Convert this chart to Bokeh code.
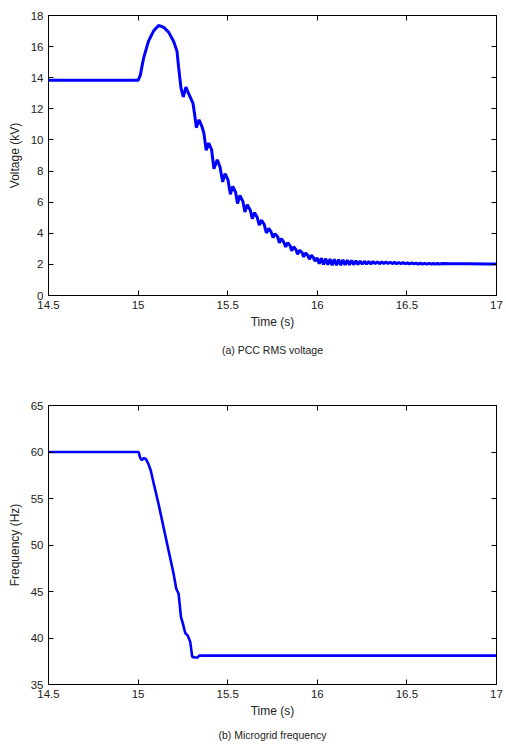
from bokeh.plotting import figure
from bokeh.layouts import column
from bokeh.models import LinearAxis, Title, FixedTicker, Range1d
from bokeh.embed import file_html
from bokeh.resources import INLINE

# ---------------- data ----------------
# (a) PCC RMS voltage (kV)
volt_t = [14.5, 15.0, 15.012, 15.031, 15.058, 15.086, 15.114, 15.142, 15.170, 15.198,
          15.217, 15.226, 15.239, 15.252, 15.267, 15.282, 15.306, 15.315, 15.325, 15.340,
          15.356, 15.367, 15.380, 15.394, 15.410, 15.423, 15.442, 15.457, 15.472, 15.485,
          15.501, 15.515, 15.528, 15.544, 15.555, 15.568, 15.585, 15.596, 15.609, 15.626,
          15.637, 15.650, 15.665, 15.676, 15.689, 15.704, 15.716, 15.729, 15.742, 15.753,
          15.764, 15.779, 15.788, 15.799, 15.812, 15.824, 15.835, 15.848, 15.857, 15.868,
          15.881, 15.890, 15.902, 15.915, 15.924, 15.935, 15.946, 15.956, 15.967, 15.978,
          15.987, 15.999, 16.011, 16.023, 16.035, 16.047, 16.059, 16.071, 16.083, 16.095,
          16.107, 16.119, 16.131, 16.143, 16.155, 16.167, 16.179, 16.191, 16.203, 16.215,
          16.227, 16.239, 16.251, 16.263, 16.275, 16.287, 16.299, 16.311, 16.323, 16.335,
          16.347, 16.359, 16.371, 16.383, 16.395, 16.407, 16.419, 16.431, 16.443, 16.455,
          16.467, 16.479, 16.491, 16.503, 16.515, 16.527, 16.539, 16.551, 16.563, 16.575,
          16.587, 16.599, 16.611, 16.623, 16.635, 16.647, 16.659, 16.671, 16.683, 16.695,
          16.75, 16.85, 16.95, 17.0]
volt_v = [13.83, 13.83, 14.15, 15.28, 16.35, 17.00, 17.36, 17.25, 16.93, 16.35,
          15.71, 14.68, 13.36, 12.76, 13.40, 12.97, 12.37, 11.69, 10.79, 11.30,
          10.87, 10.45, 9.33, 9.80, 9.38, 8.15, 8.73, 8.26, 7.30, 7.83,
          7.45, 6.51, 7.02, 6.64, 5.91, 6.44, 6.04, 5.37, 5.84, 5.48,
          4.94, 5.33, 5.01, 4.52, 4.84, 4.56, 4.02, 4.32, 4.09, 3.72,
          3.98, 3.77, 3.38, 3.66, 3.45, 3.13, 3.40, 3.21, 2.87, 3.13,
          2.95, 2.65, 2.91, 2.76, 2.48, 2.74, 2.59, 2.33, 2.59, 2.44,
          2.20, 2.42, 2.05, 2.40, 2.00, 2.37, 1.97, 2.35, 1.95, 2.33,
          1.95, 2.31, 1.95, 2.30, 1.96, 2.28, 1.97, 2.26, 1.98, 2.24,
          2.00, 2.22, 2.01, 2.20, 2.02, 2.19, 2.03, 2.18, 2.04, 2.17,
          2.04, 2.16, 2.05, 2.15, 2.05, 2.14, 2.05, 2.13, 2.05, 2.12,
          2.05, 2.11, 2.04, 2.10, 2.03, 2.09, 2.03, 2.08, 2.02, 2.08,
          2.02, 2.07, 2.02, 2.07, 2.02, 2.06, 2.02, 2.06, 2.02, 2.05,
          2.04, 2.04, 2.03, 2.03]

# (b) Microgrid frequency (Hz)
freq_t = [14.5, 15.003, 15.012, 15.021, 15.031, 15.044, 15.058, 15.071, 15.090, 15.114,
          15.142, 15.170, 15.198, 15.213, 15.226, 15.239, 15.250, 15.263, 15.276, 15.291,
          15.302, 15.319, 15.332, 15.341, 17.0]
freq_v = [60.0, 60.0, 59.35, 59.13, 59.35, 59.24, 58.70, 57.99, 56.38, 54.41,
          51.91, 49.41, 46.90, 45.30, 44.76, 42.26, 41.54, 40.54, 40.29, 39.58,
          37.97, 37.90, 37.90, 38.11, 38.11]

x_ticks = [14.5, 15, 15.5, 16, 16.5, 17]
x_tick_labels = ["14.5", "15", "15.5", "16", "16.5", "17"]
v_ticks = [0, 2, 4, 6, 8, 10, 12, 14, 16, 18]
f_ticks = [35, 40, 45, 50, 55, 60, 65]

FONT = "Liberation Sans"


def style_axis(ax, show_labels=True):
    ax.axis_line_color = "black"
    ax.axis_line_width = 1
    ax.major_tick_line_color = "black"
    ax.major_tick_in = 5
    ax.major_tick_out = 0
    ax.minor_tick_in = 0
    ax.minor_tick_out = 0
    ax.major_label_text_font = FONT
    ax.axis_label_text_font = FONT
    ax.axis_label_text_font_style = "normal"
    ax.axis_label_text_font_size = "12px"
    ax.axis_label_text_color = "#222222"
    if show_labels:
        ax.major_label_text_color = "#222222"
        ax.major_label_text_font_size = "11.5px"
        ax.major_label_standoff = 5
    else:
        ax.major_label_text_color = None
        ax.major_label_text_font_size = "1px"
        ax.major_label_standoff = 0


def make_fig(t, v, yr, yticks, ylabel, caption, height, top_border, bottom_border, lw,
             cap_standoff):
    p = figure(width=506, height=height, x_range=Range1d(14.5, 17), y_range=Range1d(*yr),
               output_backend="svg", toolbar_location=None,
               min_border_left=48, min_border_right=10,
               min_border_top=top_border, min_border_bottom=bottom_border)
    p.grid.visible = False
    p.outline_line_color = "black"
    p.background_fill_color = "white"
    p.border_fill_color = "white"
    p.line(t, v, line_color="#0000FF", line_width=lw)

    overrides = {k: s for k, s in zip(x_ticks, x_tick_labels)}

    p.xaxis.ticker = FixedTicker(ticks=x_ticks)
    p.xaxis.major_label_overrides = overrides
    p.xaxis.axis_label = "Time (s)"
    p.xaxis.axis_label_standoff = 3
    p.yaxis.ticker = FixedTicker(ticks=yticks)
    p.yaxis.axis_label = ylabel
    p.yaxis.axis_label_standoff = 6
    style_axis(p.xaxis[0])
    style_axis(p.yaxis[0])

    top = LinearAxis(ticker=FixedTicker(ticks=x_ticks))
    right = LinearAxis(ticker=FixedTicker(ticks=yticks))
    style_axis(top, False)
    style_axis(right, False)
    p.add_layout(top, "above")
    p.add_layout(right, "right")

    cap = Title(text=caption, align="center", text_font=FONT, text_font_style="normal",
                text_font_size="10.5px", text_color="#222222", standoff=cap_standoff)
    p.add_layout(cap, "below")
    return p


p1 = make_fig(volt_t, volt_v, (0, 18), v_ticks, "Voltage (kV)", "(a) PCC RMS voltage",
              370, 15, 75, 3, 20)
p2 = make_fig(freq_t, freq_v, (35, 65), f_ticks, "Frequency (Hz)", "(b) Microgrid frequency",
              379, 35, 65, 2.6, 12)

layout = column(p1, p2)
open("out.html", "w").write(file_html(layout, INLINE))
